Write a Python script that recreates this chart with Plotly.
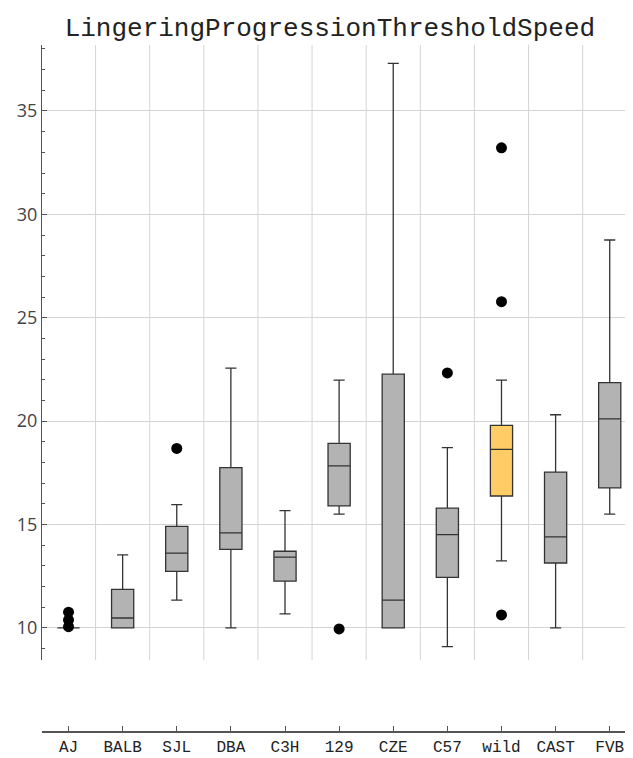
import plotly.graph_objects as go

categories = ["AJ", "BALB", "SJL", "DBA", "C3H", "129", "CZE", "C57", "wild", "CAST", "FVB"]
q1 = [10.0, 10.0, 12.74, 13.80, 12.26, 15.90, 10.0, 12.45, 16.38, 13.14, 16.77]
median = [10.0, 10.48, 13.62, 14.60, 13.42, 17.84, 11.35, 14.51, 18.64, 14.40, 20.11]
q3 = [10.0, 11.87, 14.91, 17.75, 13.71, 18.93, 22.27, 15.79, 19.80, 17.54, 21.86]
lower = [10.0, 10.0, 11.35, 10.0, 10.68, 15.50, 10.0, 9.10, 13.24, 10.0, 15.50]
upper = [10.0, 13.53, 15.96, 22.56, 15.67, 21.98, 37.30, 18.72, 21.98, 20.31, 28.76]
outlier_cat = ["AJ", "AJ", "AJ", "SJL", "129", "C57", "wild", "wild", "wild"]
outlier_val = [10.06, 10.39, 10.76, 18.68, 9.95, 22.33, 10.63, 25.78, 33.22]
highlight = "wild"
y_ticks = [10, 15, 20, 25, 30, 35]

idx = {c: i for i, c in enumerate(categories)}
fig = go.Figure()

for hl in (False, True):
    sel = [i for i, c in enumerate(categories) if (c == highlight) == hl]
    fig.add_trace(go.Box(
        x=[i for i in sel],
        q1=[q1[i] for i in sel],
        median=[median[i] for i in sel],
        q3=[q3[i] for i in sel],
        lowerfence=[lower[i] for i in sel],
        upperfence=[upper[i] for i in sel],
        width=0.41,
        whiskerwidth=0.5,
        fillcolor="#ffcc66" if hl else "#b3b3b3",
        line=dict(color="#333333", width=1.3),
        boxpoints=False,
        showlegend=False,
        hoverinfo="skip",
    ))

fig.add_trace(go.Scatter(
    x=[idx[c] for c in outlier_cat],
    y=outlier_val,
    mode="markers",
    marker=dict(color="black", size=11),
    showlegend=False,
    hoverinfo="skip",
))

shapes = []
for i in range(len(categories) - 1):
    shapes.append(dict(type="line", xref="x", yref="y domain", x0=i + 0.5, x1=i + 0.5,
                       y0=0, y1=1, line=dict(color="#d4d4d4", width=1), layer="below"))

fig.update_layout(
    width=625, height=750,
    margin=dict(l=34, r=0, t=37, b=26, autoexpand=False),
    paper_bgcolor="white", plot_bgcolor="white",
    boxmode="overlay",
    shapes=shapes,
    title=dict(text="LingeringProgressionThresholdSpeed", x=0.515, xanchor="center",
               y=1 - 19 / 750, yanchor="middle",
               font=dict(family="Liberation Mono", size=26, color="#222")),
    xaxis=dict(
        range=[-0.49, 10.43],
        tickvals=list(range(len(categories))),
        ticktext=categories,
        anchor="free", position=0,
        showgrid=False, zeroline=False, automargin=False,
        showline=True, linecolor="#555", linewidth=1.5,
        ticks="inside", ticklen=5, tickcolor="#555",
        tickfont=dict(family="Liberation Mono", size=16, color="#222"),
    ),
    yaxis=dict(
        domain=[(732 - 660) / 687, 1],
        range=[8.45, 38.19],
        tickvals=y_ticks,
        showgrid=True, gridcolor="#d4d4d4", gridwidth=1,
        zeroline=False, automargin=False,
        showline=True, linecolor="#555", linewidth=1.3,
        ticks="inside", ticklen=5, tickcolor="#555",
        minor=dict(dtick=1, tick0=0, ticks="inside", ticklen=3, tickcolor="#555", showgrid=False),
        tickfont=dict(family="Open Sans", size=18, color="#444"),
    ),
)

fig.write_html("out.html")
